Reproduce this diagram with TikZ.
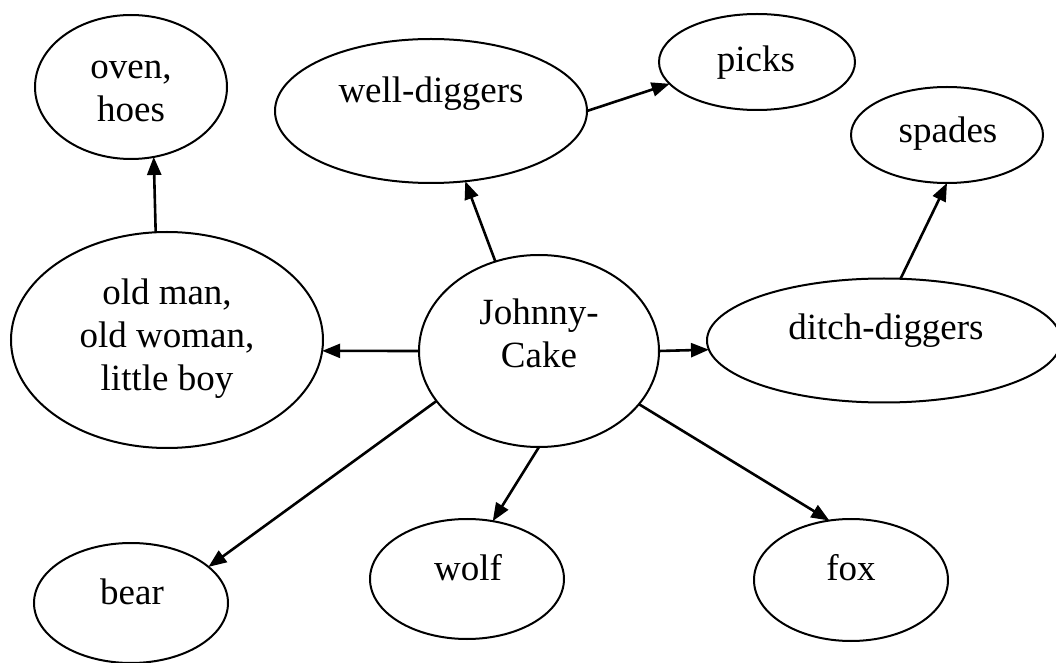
\documentclass[tikz,border=0pt]{standalone}
\usepackage{fontspec}
\setmainfont{Liberation Serif}
\usetikzlibrary{shapes.geometric,arrows.meta}
\begin{document}
\begin{tikzpicture}[x=0.5pt,y=-0.5pt,
  el/.style={draw, ellipse, line width=1pt, inner sep=0pt, outer sep=0pt},
  lbl/.style={anchor=base, inner sep=0pt, font=\fontsize{18.5}{21.5}\selectfont},
  arr/.style={line width=1.3pt, -{Triangle[length=9pt,width=7pt]}}]
\useasboundingbox (0,0) rectangle (1056,663);
% ellipses
\node[el, minimum width=96pt,  minimum height=72pt]  (oven)   at (131,87)  {};
\node[el, minimum width=156pt, minimum height=72pt]  (well)   at (431,111) {};
\node[el, minimum width=98pt,  minimum height=48pt]  (picks)  at (757,62)  {};
\node[el, minimum width=96pt,  minimum height=48pt]  (spades) at (947,135) {};
\node[el, minimum width=156pt, minimum height=108pt] (om)     at (167,340) {};
\node[el, minimum width=120pt, minimum height=96pt]  (jc)     at (539,351) {};
\node[el, minimum width=177pt, minimum height=62pt]  (ditch)  at (884,340.5) {};
\node[el, minimum width=97pt,  minimum height=60pt]  (bear)   at (131,603) {};
\node[el, minimum width=97pt,  minimum height=60pt]  (wolf)   at (467,579) {};
\node[el, minimum width=97pt,  minimum height=61pt]  (fox)    at (851,580) {};
% labels
\node[lbl] (toven)   at (131,79)  {\begin{tabular}[t]{@{}c@{}}oven,\\hoes\end{tabular}};
\node[lbl] (twell)   at (431,103) {well-diggers};
\node[lbl] (tpicks)  at (756,72)  {picks};
\node[lbl] (tspades) at (948,143) {spades};
\node[lbl] (tom)     at (167,305) {\begin{tabular}[t]{@{}c@{}}old man,\\old woman,\\little boy\end{tabular}};
\node[lbl] (tjc)     at (539,325) {\begin{tabular}[t]{@{}c@{}}Johnny-\\Cake\end{tabular}};
\node[lbl] (tditch)  at (886,340) {ditch-diggers};
\node[lbl] (tbear)   at (132,604) {bear};
\node[lbl] (twolf)   at (468,580) {wolf};
\node[lbl] (tfox)    at (851,580) {fox};
% connectors
\draw[arr] (om.96.2)   -- (oven.288.2);
\draw[arr] (jc.116.6)  -- (well.296.3);
\draw[arr] (well.0)    -- (picks.194.5);
\draw[arr] (ditch.75)  -- (spades.270);
\draw[arr] (jc.180)    -- (om.356.3);
\draw[arr] (jc.0)      -- (ditch.183.1);
\draw[arr] (jc.206.8)  -- (bear.25.9);
\draw[arr] (jc.270)    -- (wolf.66.9);
\draw[arr] (jc.332.7)  -- (fox.110.5);
\end{tikzpicture}
\end{document}
